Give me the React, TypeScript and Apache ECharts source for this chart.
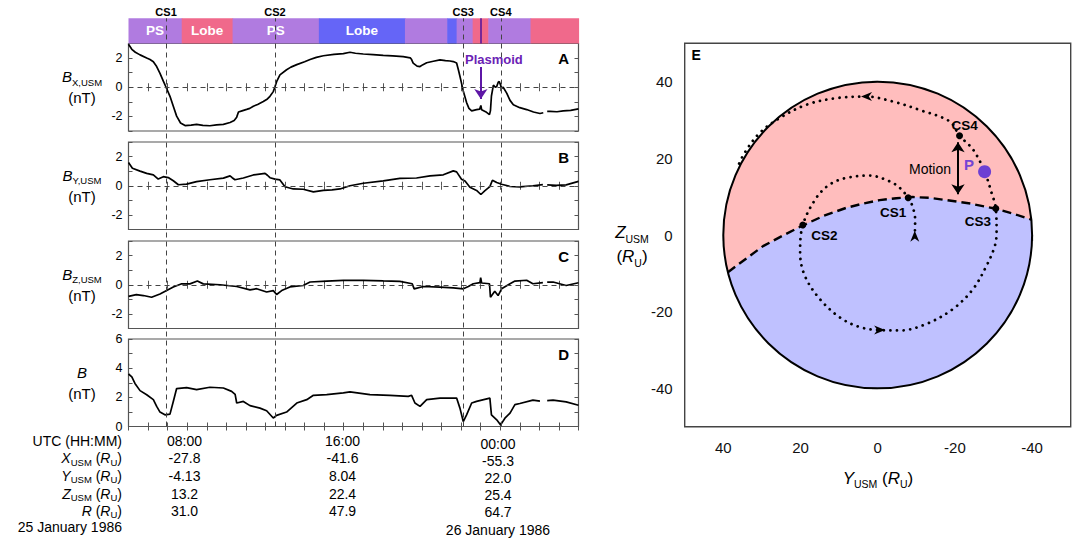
import React, { useEffect, useRef } from "react";
import * as echarts from "echarts";

const FONT = "Liberation Sans, Arial, Helvetica, sans-serif";

// ---------- time axis (hours since 25 Jan 1986 00:00) ----------
const X_MIN = 5;
const X_MAX = 28;

// ---------- current sheet crossings ----------
const CS_NAMES = ["CS1", "CS2", "CS3", "CS4"];
const CS_TIMES = [6.92, 12.49, 22.11, 24.03];
const PLASMOID_T = 23.01;

// ---------- region bar ----------
const REGION_START = [5, 7.72, 10.32, 14.73, 19.13, 21.29, 21.77, 22.59, 23.39, 25.55];
const REGION_END = [7.72, 10.32, 14.73, 19.13, 21.29, 21.77, 22.59, 23.39, 25.55, 28];
const REGION_KIND = ["ps", "south", "ps", "north", "ps", "north", "ps", "south", "ps", "south"];
const REGION_LABEL = ["PS", "Lobe", "PS", "Lobe", "", "", "", "", "", ""];

// ---------- Panel A : Bx ----------
const BX_T = [5.0, 5.17, 5.35, 5.59, 5.93, 6.1, 6.27, 6.44, 6.61, 6.78, 6.92, 7.12, 7.29, 7.46, 7.66, 7.89, 8.2, 8.48, 8.8, 9.16, 9.5, 9.85, 10.19, 10.4, 10.53, 10.62, 10.8, 11.04, 11.2, 11.38, 11.6, 11.89, 12.1, 12.23, 12.4, 12.49, 12.57, 12.74, 13.08, 13.3, 13.6, 14.0, 14.28, 14.6, 14.96, 15.5, 15.98, 16.32, 16.6, 17.0, 17.5, 18.02, 18.5, 19.04, 19.4, 19.47, 19.55, 19.75, 19.9, 20.05, 20.24, 20.58, 20.92, 21.2, 21.43, 21.6, 21.77, 21.86, 21.94, 22.11, 22.28, 22.4, 22.54, 22.79, 22.95, 23.01, 23.05, 23.3, 23.45, 23.5, 23.55, 23.65, 23.75, 23.82, 23.9, 23.95, 24.07, 24.15, 24.33, 24.5, 24.67, 25.0, 25.35, 25.7, 26.03, 26.2, 26.3, 26.4, 26.54, 26.9, 27.22, 27.6, 28.0];
const BX_V = [2.95, 2.6, 2.4, 2.22, 2.0, 1.9, 1.75, 1.42, 0.95, 0.42, 0.0, -0.62, -1.3, -1.98, -2.45, -2.63, -2.6, -2.55, -2.62, -2.64, -2.58, -2.55, -2.42, -2.28, -2.05, -1.7, -1.62, -1.52, -1.45, -1.3, -1.18, -0.98, -0.8, -0.62, -0.3, 0.05, 0.38, 0.85, 1.2, 1.38, 1.55, 1.75, 1.9, 2.05, 2.16, 2.25, 2.31, 2.4, 2.33, 2.28, 2.24, 2.19, 2.15, 2.1, 2.02, 1.9, 1.65, 1.45, 1.42, 1.55, 1.68, 1.78, 1.88, 1.82, 1.8, 1.76, 1.66, 1.2, 0.75, -0.25, -1.05, -1.45, -1.62, -1.53, -1.5, -1.25, -1.55, -1.72, -1.88, -1.6, -0.6, 0.15, 0.0, 0.05, 0.35, 0.4, -0.05, 0.0, -0.4, -0.9, -1.2, -1.4, -1.53, -1.7, -1.8, -1.75, null, -1.65, -1.65, -1.68, -1.62, -1.58, -1.48];

// ---------- Panel B : By ----------
const BY_T = [5.0, 5.2, 5.59, 5.93, 6.27, 6.52, 6.78, 7.03, 7.29, 7.55, 7.97, 8.48, 9.16, 9.85, 10.19, 10.3, 10.44, 10.87, 11.38, 11.98, 12.1, 12.23, 12.49, 12.74, 13.0, 13.42, 13.93, 14.45, 14.96, 15.4, 15.81, 16.32, 17.0, 18.02, 18.87, 19.72, 20.41, 21.09, 21.6, 21.77, 22.02, 22.2, 22.45, 22.79, 23.01, 23.22, 23.47, 23.6, 23.82, 24.07, 24.5, 25.0, 25.67, 26.18, 26.3, 26.4, 26.86, 27.37, 28.0];
const BY_V = [1.6, 1.2, 1.0, 0.85, 0.75, 0.46, 0.62, 0.56, 0.34, 0.07, 0.11, 0.28, 0.41, 0.52, 0.68, 0.55, 0.41, 0.53, 0.74, 0.85, 0.72, 0.55, 0.45, 0.4, -0.07, -0.22, -0.24, -0.42, -0.32, -0.28, -0.22, 0.0, 0.17, 0.33, 0.5, 0.53, 0.68, 0.75, 1.02, 0.95, 0.45, 0.33, -0.1, -0.32, -0.6, -0.33, -0.06, 0.38, 0.22, 0.1, -0.05, -0.08, 0.0, 0.08, null, 0.06, 0.03, 0.06, 0.3];

// ---------- Panel C : Bz ----------
const BZ_T = [5.0, 5.4, 5.76, 6.18, 6.61, 6.95, 7.29, 7.72, 8.14, 8.52, 8.82, 9.68, 10.53, 11.21, 11.55, 12.06, 12.4, 12.57, 12.83, 13.25, 13.93, 14.28, 15.13, 15.98, 17.0, 18.02, 18.87, 19.5, 19.6, 20.07, 20.92, 21.6, 22.11, 22.37, 22.62, 22.96, 23.0, 23.05, 23.45, 23.5, 23.72, 23.89, 24.07, 24.5, 24.75, 25.35, 25.67, 26.18, 26.3, 26.4, 26.7, 27.37, 28.0];
const BZ_V = [-0.8, -0.68, -0.74, -0.86, -0.63, -0.4, -0.16, 0.07, 0.06, 0.26, 0.06, 0.0, -0.12, -0.35, -0.27, -0.5, -0.4, -0.67, -0.4, -0.15, -0.05, 0.19, 0.25, 0.3, 0.3, 0.26, 0.23, 0.07, -0.28, -0.12, -0.16, -0.22, -0.28, -0.12, 0.07, 0.14, 0.49, 0.12, 0.07, -0.86, -0.44, -0.74, -0.28, 0.07, 0.25, 0.31, 0.07, 0.14, null, 0.18, 0.19, -0.05, 0.14];

// ---------- Panel D : |B| ----------
const BT_T = [5.0, 5.17, 5.33, 5.59, 5.93, 6.27, 6.44, 6.61, 6.86, 7.12, 7.29, 7.46, 7.97, 8.48, 9.16, 9.85, 10.27, 10.45, 10.53, 10.87, 11.21, 11.72, 12.06, 12.4, 12.57, 13.08, 13.6, 14.11, 14.45, 15.13, 15.98, 16.32, 17.34, 18.36, 19.3, 19.47, 19.64, 19.9, 20.24, 20.92, 21.77, 21.94, 22.11, 22.28, 22.54, 22.79, 23.47, 23.55, 23.82, 24.02, 24.24, 24.5, 24.75, 25.0, 25.67, 26.03, 26.3, 26.4, 26.7, 27.37, 28.0];
const BT_V = [3.6, 3.4, 2.95, 2.46, 2.18, 1.84, 1.38, 0.99, 0.8, 0.85, 1.72, 2.6, 2.66, 2.53, 2.69, 2.64, 2.41, 2.2, 1.61, 1.72, 1.43, 1.26, 1.08, 0.58, 0.76, 0.99, 1.61, 1.84, 2.14, 2.18, 2.3, 2.37, 2.18, 2.14, 2.07, 2.14, 1.61, 1.38, 1.84, 1.95, 1.95, 1.26, 0.34, 0.8, 1.61, 1.72, 1.95, 0.8, 0.46, 0.11, 0.57, 0.92, 1.5, 1.58, 1.81, 1.74, null, 1.78, 1.81, 1.69, 1.46];

// ---------- table under the time series ----------
const TABLE_UTC = ["08:00", "16:00", "00:00"];
const TABLE_X = ["-27.8", "-41.6", "-55.3"];
const TABLE_Y = ["-4.13", "8.04", "22.0"];
const TABLE_Z = ["13.2", "22.4", "25.4"];
const TABLE_R = ["31.0", "47.9", "64.7"];

// ---------- Panel E ----------
const CIRCLE_R = 40;
const E_TICKS = [-40, -20, 0, 20, 40];
const BOUNDARY_Y = [38.8, 34, 29.7, 24.5, 19.4, 14, 8.1, 3.8, -0.5, -4.8, -9.1, -13.5, -17.8, -24, -30.3, -35, -39.8];
const BOUNDARY_Z = [-9.7, -6.1, -2.9, -0.1, 2.5, 5.0, 7.1, 8.2, 9.1, 9.6, 9.9, 9.7, 9.1, 8.2, 6.9, 5.6, 4.0];
const TRAJ_Y = [-9.6, -9.7, -9.0, -7.9, -5.7, -3.1, 2.1, 8.1, 12.4, 15.9, 19.4, 20.1, 18.9, 15.0, 9.8, 4.7, -0.5, -5.7, -12.6, -19.5, -24.7, -28.2, -30.3, -30.8, -30.6, -29.5, -27.7, -24.7, -21.2, -18.7, -10.9, -4.0, 2.9, 10.7, 18.4, 25.4, 30.6, 34.5, 36.2];
const TRAJ_Z = [-0.5, 4.0, 7.5, 9.7, 12.3, 14.0, 15.5, 14.9, 13.2, 9.7, 2.6, -4.6, -10.6, -16.7, -21.5, -24.0, -24.8, -24.9, -23.2, -19.3, -14.1, -8.0, -3.0, 0.6, 6.9, 11.0, 16.5, 22.3, 25.9, 29.6, 32.6, 34.8, 36.1, 35.7, 34.0, 30.5, 26.6, 21.4, 17.9];
const ARROW_Y = [-9.6, -0.5, 2.9];
const ARROW_Z = [-0.3, -24.8, 36.1];
const ARROW_ROT = [0, -90, 90];
const CS_POS_Y = [-7.9, 19.4, -30.6, -21.2];
const CS_POS_Z = [9.7, 2.6, 6.9, 25.9];
const P_POS = [-27.7, 16.5];
const MOTION_Y = -20.8;
const MOTION_Z = [24.2, 10.6];

// ---------- layout ----------
const PLOT_LEFT = 128.5;
const PLOT_W = 450;
const BAR_TOP = 18.3;
const BAR_H = 25.2;
const PANEL_TOPS = [43.5, 142, 241, 339];
const PANEL_H = 87.5;
const PANEL_MIN = [-3, -3, -3, 0];
const PANEL_MAX = [3, 3, 3, 6];
const PANEL_SUB = ["X,USM", "Y,USM", "Z,USM", ""];
const PANEL_LETTER = ["A", "B", "C", "D"];

const COLORS: Record<string, string> = { ps: "#b07be0", south: "#f0698b", north: "#6565f7" };

function pairs(t: number[], v: (number | null)[]) {
  return t.map((x, i) => [x, v[i] === null ? "-" : v[i]]);
}

const rich = (main: number, sub: number, lh: number) => ({
  m: { fontSize: main, fontFamily: FONT, lineHeight: lh, fill: "#000", color: "#000" },
  i: { fontSize: main, fontFamily: FONT, fontStyle: "italic", lineHeight: lh, fill: "#000", color: "#000" },
  s: { fontSize: sub, fontFamily: FONT, lineHeight: sub + 1, verticalAlign: "bottom", fill: "#000", color: "#000" },
});

function txt(text: string, x: number, y: number, opts: any = {}) {
  const align = opts.align || "center";
  return {
    type: "text",
    z: 100,
    silent: true,
    style: {
      text,
      x,
      y,
      fill: opts.fill || "#000",
      fontSize: opts.size || 14,
      fontFamily: FONT,
      fontWeight: opts.weight || "normal",
      fontStyle: opts.style || "normal",
      align,
      textAlign: align,
      verticalAlign: "middle",
      textVerticalAlign: "middle",
      rich: opts.rich,
    },
  };
}

function buildOption() {
  const grids: any[] = [
    { left: PLOT_LEFT, width: PLOT_W, top: BAR_TOP, height: BAR_H },
  ];
  PANEL_TOPS.forEach((t) =>
    grids.push({ left: PLOT_LEFT, width: PLOT_W, top: t, height: PANEL_H, show: true, borderColor: "#555", borderWidth: 1.2, backgroundColor: "transparent" })
  );
  grids.push({ left: PLOT_LEFT, width: PLOT_W, top: BAR_TOP, height: PANEL_TOPS[3] + PANEL_H - BAR_TOP });
  grids.push({ left: 684.7, width: 386, top: 43.3, height: 383.4, show: true, borderColor: "#444", borderWidth: 1.4, backgroundColor: "transparent" });
  grids.forEach((g) => { g.containLabel = false; g.outerBoundsMode = "none"; });

  const tick = { show: true, inside: true, length: 4, lineStyle: { color: "#555", width: 1 } };
  const xAxis: any[] = [];
  const yAxis: any[] = [];
  // 0: bar
  xAxis.push({ gridIndex: 0, type: "value", min: X_MIN, max: X_MAX, show: false });
  yAxis.push({ gridIndex: 0, type: "value", min: 0, max: 1, show: false });
  // 1..4 bottom / left
  for (let i = 0; i < 4; i++) {
    xAxis.push({ gridIndex: i + 1, type: "value", min: X_MIN, max: X_MAX, interval: 1, axisLine: { show: false }, axisTick: tick, axisLabel: { show: false }, splitLine: { show: false } });
    yAxis.push({
      gridIndex: i + 1, type: "value", min: PANEL_MIN[i], max: PANEL_MAX[i], interval: 1,
      axisLine: { show: false }, axisTick: tick, splitLine: { show: false },
      axisLabel: { show: true, fontSize: 12.5, fontFamily: FONT, color: "#000", margin: 6, formatter: (v: number) => (Math.round(v) % 2 === 0 ? String(v) : "") },
    });
  }
  // 5..8 top / right mirrors
  for (let i = 0; i < 4; i++) {
    xAxis.push({ gridIndex: i + 1, type: "value", position: "top", min: X_MIN, max: X_MAX, interval: 1, axisLine: { show: false }, axisTick: tick, axisLabel: { show: false }, splitLine: { show: false } });
    yAxis.push({ gridIndex: i + 1, type: "value", position: "right", min: PANEL_MIN[i], max: PANEL_MAX[i], interval: 1, axisLine: { show: false }, axisTick: tick, axisLabel: { show: false }, splitLine: { show: false } });
  }
  // 9 overlay
  xAxis.push({ gridIndex: 5, type: "value", min: X_MIN, max: X_MAX, show: false });
  yAxis.push({ gridIndex: 5, type: "value", min: 0, max: 1, show: false });
  // 10 panel E
  const eTick = { show: true, inside: false, length: 6, lineStyle: { color: "#444", width: 1.2 }, customValues: E_TICKS };
  xAxis.push({ gridIndex: 6, type: "value", min: -50, max: 50, inverse: true, axisLine: { show: false }, axisTick: eTick, splitLine: { show: false }, axisLabel: { customValues: E_TICKS, fontSize: 15, fontFamily: FONT, color: "#111", margin: 13 } });
  yAxis.push({ gridIndex: 6, type: "value", min: -50, max: 50, axisLine: { show: false }, axisTick: eTick, splitLine: { show: false }, axisLabel: { customValues: E_TICKS, fontSize: 15, fontFamily: FONT, color: "#111", margin: 12 } });

  const dashed = { color: "#444", width: 1, type: [5, 4] };
  const series: any[] = [];

  // region bar
  series.push({
    type: "custom", xAxisIndex: 0, yAxisIndex: 0, z: 1, silent: true,
    data: REGION_START.map((s, i) => [s, REGION_END[i], i]),
    renderItem: (params: any, api: any) => {
      const i = api.value(2);
      const p0 = api.coord([api.value(0), 1]);
      const p1 = api.coord([api.value(1), 0]);
      const children: any[] = [
        { type: "rect", shape: { x: p0[0], y: p0[1], width: p1[0] - p0[0] + 0.6, height: p1[1] - p0[1] }, style: { fill: COLORS[REGION_KIND[i]] } },
      ];
      if (REGION_LABEL[i]) {
        children.push({ type: "text", style: { text: REGION_LABEL[i], x: (p0[0] + p1[0]) / 2, y: (p0[1] + p1[1]) / 2, align: "center", verticalAlign: "middle", fill: "#fff", fontSize: 13.5, fontWeight: "bold", fontFamily: FONT } });
      }
      return { type: "group", children };
    },
  });
  series.push({
    type: "scatter", xAxisIndex: 0, yAxisIndex: 0, z: 2, silent: true, symbolSize: 0, data: [[PLASMOID_T, 0.5]],
    markLine: { silent: true, symbol: "none", label: { show: false }, lineStyle: { color: "#5a189a", width: 1.6, type: "solid" }, data: [{ xAxis: PLASMOID_T }] },
  });

  const panelData = [pairs(BX_T, BX_V), pairs(BY_T, BY_V), pairs(BZ_T, BZ_V), pairs(BT_T, BT_V)];
  panelData.forEach((d, i) => {
    series.push({
      type: "line", xAxisIndex: i + 1, yAxisIndex: i + 1, data: d, z: 4, silent: true,
      showSymbol: false, symbol: "none", connectNulls: false,
      lineStyle: { color: "#000", width: 1.7 },
      markLine: i < 3 ? { silent: true, symbol: "none", label: { show: false }, lineStyle: dashed, data: [{ yAxis: 0 }] } : undefined,
    });
  });

  // plasmoid arrow
  series.push({
    type: "scatter", xAxisIndex: 1, yAxisIndex: 1, z: 5, silent: true, symbolSize: 0, data: [[PLASMOID_T, 1.39]],
    markLine: {
      silent: true, symbol: ["none", "arrow"], symbolSize: 10,
      lineStyle: { color: "#5e17a6", width: 2, type: "solid" },
      label: { show: true, position: "start", formatter: "Plasmoid", color: "#6b22b5", fontWeight: "bold", fontSize: 13, fontFamily: FONT, distance: 1, padding: [0, 0, 0, 26] },
      data: [[{ coord: [PLASMOID_T, 1.39] }, { coord: [PLASMOID_T, -0.8] }]],
    },
  });

  // CS dashed verticals over all left panels
  series.push({
    type: "scatter", xAxisIndex: 9, yAxisIndex: 9, z: 6, silent: true, symbolSize: 0,
    data: CS_TIMES.map((t) => [t, 0.5]),
    markLine: {
      silent: true, symbol: "none", lineStyle: dashed,
      label: { show: true, position: "end", formatter: "{b}", color: "#000", fontWeight: "bold", fontSize: 11, fontFamily: FONT, distance: 1 },
      data: CS_TIMES.map((t, i) => ({ xAxis: t, name: CS_NAMES[i] })),
    },
  });

  // Panel E: circle, regions
  series.push({
    type: "custom", xAxisIndex: 10, yAxisIndex: 10, z: 1, silent: true, data: [[0, 0]],
    renderItem: (params: any, api: any) => {
      const c = api.coord([0, 0]);
      const sz = api.size([CIRCLE_R, CIRCLE_R]);
      const rx = Math.abs(sz[0]);
      const ry = Math.abs(sz[1]);
      const n = BOUNDARY_Y.length;
      const bPts = BOUNDARY_Y.map((y, i) => api.coord([y, BOUNDARY_Z[i]]));
      const a0 = Math.atan2(BOUNDARY_Z[n - 1], BOUNDARY_Y[n - 1]);
      const a1 = Math.atan2(BOUNDARY_Z[0], BOUNDARY_Y[0]);
      const arc: number[][] = [];
      const steps = 120;
      for (let k = 0; k <= steps; k++) {
        const a = a0 + ((a1 - a0) * k) / steps;
        arc.push(api.coord([CIRCLE_R * Math.cos(a), CIRCLE_R * Math.sin(a)]));
      }
      return {
        type: "group",
        children: [
          { type: "ellipse", shape: { cx: c[0], cy: c[1], rx, ry }, style: { fill: "#bfc1ff", stroke: "none" } },
          { type: "polygon", shape: { points: bPts.concat(arc) }, style: { fill: "#ffbdbd", stroke: "none" } },
          { type: "ellipse", shape: { cx: c[0], cy: c[1], rx, ry }, style: { fill: "none", stroke: "#000", lineWidth: 2 } },
        ],
      };
    },
  });
  series.push({
    type: "line", xAxisIndex: 10, yAxisIndex: 10, z: 2, silent: true, showSymbol: false, symbol: "none",
    data: BOUNDARY_Y.map((y, i) => [y, BOUNDARY_Z[i]]),
    lineStyle: { color: "#000", width: 2.4, type: [9, 5] },
  });
  series.push({
    type: "line", xAxisIndex: 10, yAxisIndex: 10, z: 3, silent: true, showSymbol: false, symbol: "none", smooth: 0.35,
    data: TRAJ_Y.map((y, i) => [y, TRAJ_Z[i]]),
    lineStyle: { color: "#000", width: 2.8, type: [0.01, 6.6], cap: "round" },
  });
  series.push({
    type: "scatter", xAxisIndex: 10, yAxisIndex: 10, z: 4, silent: true,
    symbol: "path://M5,0L10,12L5,8.5L0,12Z", symbolSize: [9, 11],
    itemStyle: { color: "#000", opacity: 1 },
    data: ARROW_Y.map((y, i) => ({ value: [y, ARROW_Z[i]], symbolRotate: ARROW_ROT[i] })),
  });
  const csLabelPos = [
    { position: "bottom", offset: [-15, -1] },
    { position: "right", offset: [0, 10] },
    { position: "bottom", offset: [-18, -3] },
    { position: "top", offset: [5, 5] },
  ];
  series.push({
    type: "scatter", xAxisIndex: 10, yAxisIndex: 10, z: 5, silent: true, symbolSize: 7,
    itemStyle: { color: "#000", opacity: 1 },
    label: { show: true, formatter: "{b}", color: "#000", fontWeight: "bold", fontSize: 13.5, fontFamily: FONT },
    data: CS_POS_Y.map((y, i) => ({ name: CS_NAMES[i], value: [y, CS_POS_Z[i]], label: csLabelPos[i] })),
  });
  series.push({
    type: "scatter", xAxisIndex: 10, yAxisIndex: 10, z: 6, silent: true, symbolSize: 13,
    itemStyle: { color: "#6d3fd3", opacity: 1 },
    label: { show: true, formatter: "P", position: "left", distance: 4, offset: [0, -7], color: "#7444d4", fontWeight: "bold", fontSize: 15, fontFamily: FONT },
    data: [P_POS],
    markLine: {
      silent: true, symbol: ["arrow", "arrow"], symbolSize: 10,
      lineStyle: { color: "#000", width: 2, type: "solid" }, label: { show: false },
      data: [[{ coord: [MOTION_Y, MOTION_Z[0]] }, { coord: [MOTION_Y, MOTION_Z[1]] }]],
    },
  });

  // ---------- text annotations ----------
  const graphic: any[] = [];
  PANEL_TOPS.forEach((t, i) => {
    const cy = t + PANEL_H / 2;
    const top = PANEL_SUB[i] ? `{i|B}{s|${PANEL_SUB[i]}}` : "{i|B}";
    graphic.push(txt(`${top}\n{m|(nT)}`, 82, cy, { rich: rich(15, 9.5, 21) }));
    graphic.push(txt(PANEL_LETTER[i], 569, t + 15, { align: "right", weight: "bold", size: 15 }));
  });

  const rowY = [440.5, 458, 475.5, 493.5, 510.5];
  const rowY3 = [443.5, 460.5, 478, 495, 512];
  const colX = [184.5, 342.5, 498];
  const rr = rich(14, 9.5, 18);
  graphic.push(txt("UTC (HH:MM)", 122, rowY[0], { align: "right", size: 14 }));
  graphic.push(txt("{i|X}{s|USM}{m| (}{i|R}{s|U}{m|)}", 122, rowY[1], { align: "right", rich: rr }));
  graphic.push(txt("{i|Y}{s|USM}{m| (}{i|R}{s|U}{m|)}", 122, rowY[2], { align: "right", rich: rr }));
  graphic.push(txt("{i|Z}{s|USM}{m| (}{i|R}{s|U}{m|)}", 122, rowY[3], { align: "right", rich: rr }));
  graphic.push(txt("{i|R}{m| (}{i|R}{s|U}{m|)}", 122, rowY[4], { align: "right", rich: rr }));
  graphic.push(txt("25 January 1986", 122, 527, { align: "right", size: 14 }));
  const rows = [TABLE_UTC, TABLE_X, TABLE_Y, TABLE_Z, TABLE_R];
  rows.forEach((row, r) => {
    row.forEach((v, c) => {
      graphic.push(txt(v, colX[c], c === 2 ? rowY3[r] : rowY[r], { size: 14 }));
    });
  });
  graphic.push(txt("26 January 1986", colX[2], 529.5, { size: 14 }));

  // panel E texts
  graphic.push(txt("E", 691.5, 54.7, { align: "left", weight: "bold", size: 14 }));
  graphic.push(txt("Motion", 930, 169, { size: 14 }));
  graphic.push(txt("{i|Z}{s|USM}\n{m|(}{i|R}{s|U}{m|)}", 632, 244, { rich: rich(17, 10.5, 24) }));
  graphic.push(txt("{i|Y}{s|USM}{m| (}{i|R}{s|U}{m|)}", 878, 478, { rich: rich(17, 10.5, 22) }));

  return {
    animation: false,
    backgroundColor: "#fff",
    textStyle: { fontFamily: FONT },
    grid: grids,
    xAxis,
    yAxis,
    series,
    graphic,
  };
}

export default function App() {
  const ref = useRef<HTMLDivElement>(null);
  useEffect(() => {
    if (!ref.current) return;
    const chart = echarts.init(ref.current, undefined, { renderer: "svg" });
    chart.setOption(buildOption() as any);
    return () => chart.dispose();
  }, []);
  return <div ref={ref} style={{ position: "absolute", left: 0, top: 0, width: 1076, height: 539 }} />;
}
